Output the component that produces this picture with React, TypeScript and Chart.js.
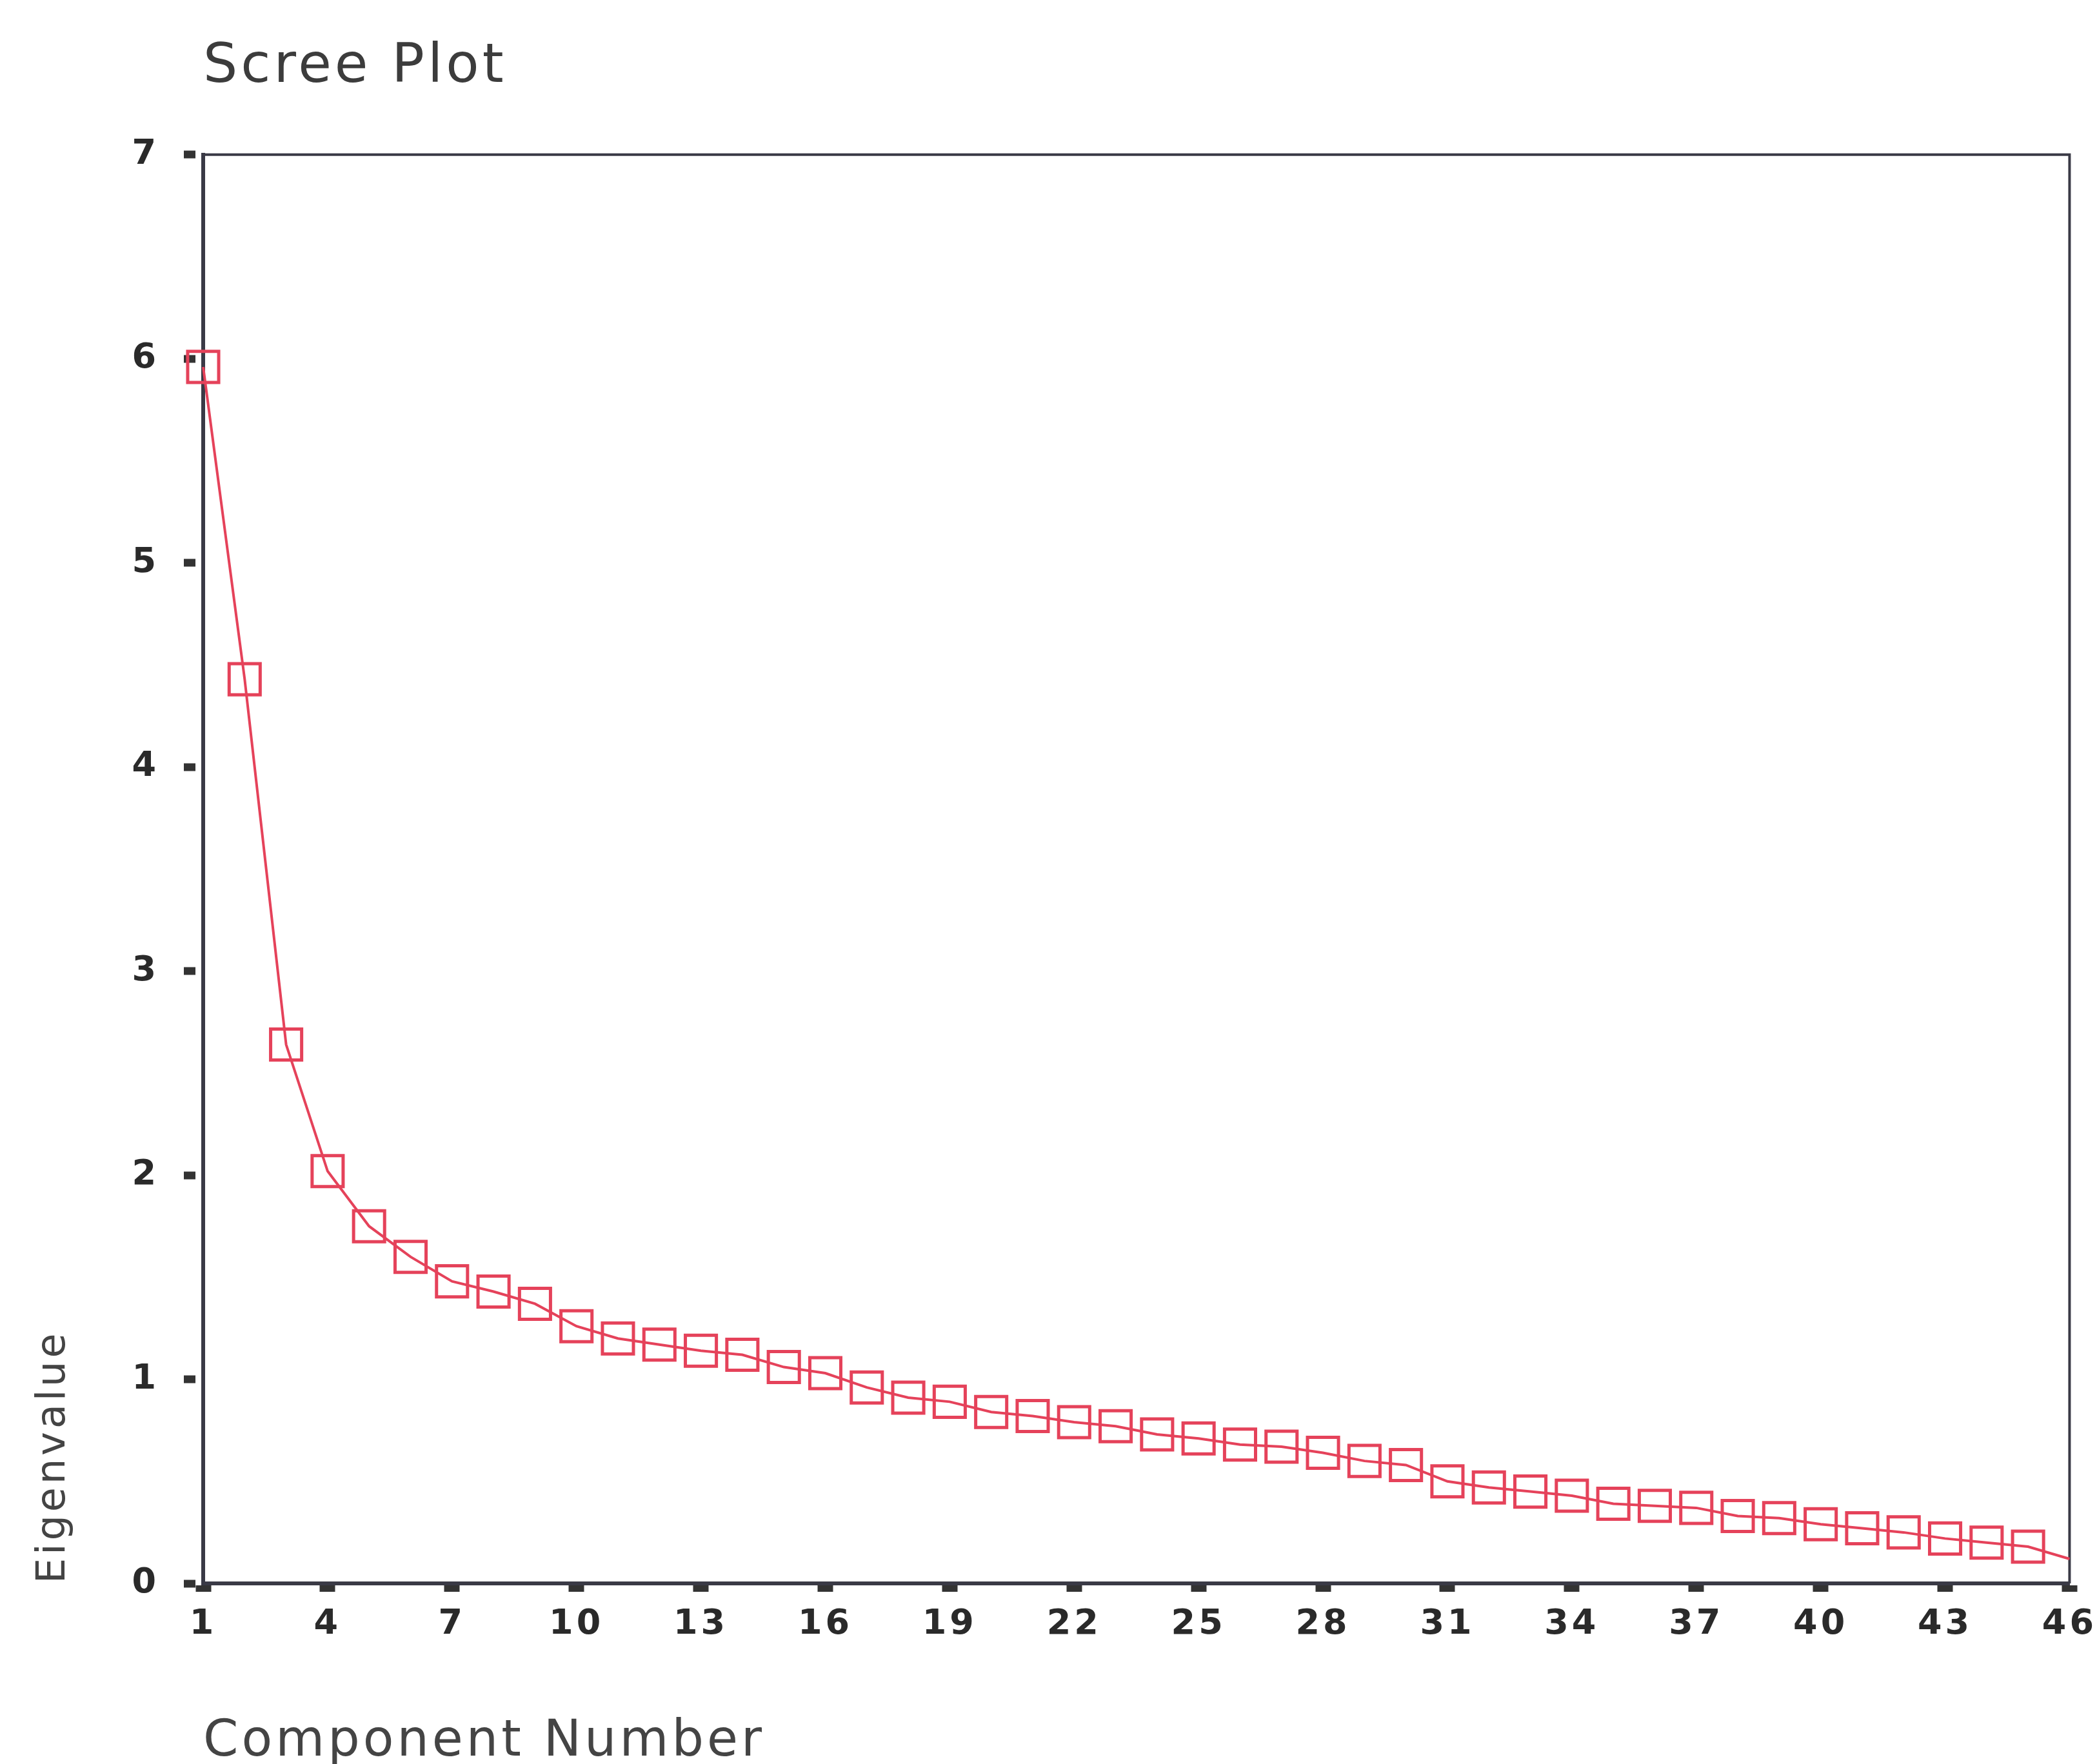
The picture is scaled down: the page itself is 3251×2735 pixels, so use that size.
import React, { useEffect, useRef } from "react";
import { Chart, registerables } from "chart.js";

Chart.register(...registerables);

const components: number[] = [
  1, 2, 3, 4, 5, 6, 7, 8, 9, 10, 11, 12, 13, 14, 15, 16, 17, 18, 19, 20, 21, 22, 23,
  24, 25, 26, 27, 28, 29, 30, 31, 32, 33, 34, 35, 36, 37, 38, 39, 40, 41, 42, 43, 44,
  45, 46,
];

const eigenvalues: number[] = [
  5.96, 4.43, 2.64, 2.02, 1.75, 1.6, 1.48, 1.43, 1.37, 1.26, 1.2, 1.17, 1.14, 1.12,
  1.06, 1.03, 0.96, 0.91, 0.89, 0.84, 0.82, 0.79, 0.77, 0.73, 0.71, 0.68, 0.67, 0.64,
  0.6, 0.58, 0.5, 0.47, 0.45, 0.43, 0.39, 0.38, 0.37, 0.33, 0.32, 0.29, 0.27, 0.25,
  0.22, 0.2, 0.18, 0.12,
];

const xTickValues: number[] = [1, 4, 7, 10, 13, 16, 19, 22, 25, 28, 31, 34, 37, 40, 43, 46];
const yTickValues: number[] = [0, 1, 2, 3, 4, 5, 6, 7];

const chartTitle = "Scree Plot";
const xTitle = "Component Number";
const yTitle = "Eigenvalue";

const FONT = "'DejaVu Sans', sans-serif";
const AXIS = "#3a3a46";
const RED = "#e5425a";

const spacingPlugin = {
  id: "spacing",
  beforeLayout(chart: any) {
    chart.ctx.letterSpacing = "5px";
  },
  beforeDraw(chart: any) {
    chart.ctx.letterSpacing = "5px";
  },
};

const framePlugin = {
  id: "frame",
  beforeDatasetsDraw(chart: any) {
    const { ctx, chartArea } = chart;
    const { left, top, right, bottom } = chartArea;
    ctx.save();
    ctx.strokeStyle = AXIS;
    ctx.lineWidth = 4;
    ctx.beginPath();
    ctx.moveTo(left, top);
    ctx.lineTo(right, top);
    ctx.lineTo(right, bottom);
    ctx.stroke();
    ctx.restore();
  },
};

export default function App() {
  const ref = useRef<HTMLCanvasElement | null>(null);

  useEffect(() => {
    if (!ref.current) return;
    const last = components.length - 1;
    const chart = new Chart(ref.current, {
      type: "line",
      data: {
        datasets: [
          {
            data: components.map((c, i) => ({ x: c, y: eigenvalues[i] })),
            borderColor: RED,
            borderWidth: 4,
            pointStyle: "rect",
            pointRadius: (ctx: any) => (ctx.dataIndex === last ? 0 : 34),
            pointBorderWidth: 5,
            pointBorderColor: RED,
            pointBackgroundColor: "rgba(255,255,255,0)",
            tension: 0,
            clip: false as any,
          },
        ],
      },
      options: {
        responsive: false,
        animation: false,
        devicePixelRatio: 1,
        layout: { padding: { left: 0, right: 0, top: 0, bottom: 0 } },
        plugins: {
          legend: { display: false },
          tooltip: { enabled: false },
          title: {
            display: true,
            text: chartTitle,
            align: "start",
            fullSize: false,
            color: "#3c3c3c",
            font: { family: FONT, size: 84, weight: "normal", lineHeight: 1.2 },
            padding: { top: 55, bottom: 84 },
          },
        },
        scales: {
          x: {
            type: "linear",
            min: 1,
            max: 46,
            afterBuildTicks: (s: any) => {
              s.ticks = xTickValues.map((v) => ({ value: v }));
            },
            afterFit: (s: any) => {
              s.height = 280;
            },
            grid: {
              drawOnChartArea: false,
              drawTicks: true,
              tickLength: 32,
              tickWidth: 24,
              tickColor: "#333",
              tickBorderDash: [10, 60],
            } as any,
            border: { display: true, color: AXIS, width: 6 },
            ticks: {
              autoSkip: false,
              maxRotation: 0,
              padding: 0,
              color: "#2a2a2a",
              font: { family: FONT, size: 54, weight: "bold" },
            },
            title: {
              display: true,
              text: xTitle,
              align: "start",
              color: "#444",
              font: { family: FONT, size: 78, weight: "normal", lineHeight: 0.8 },
              padding: { top: 0, bottom: 2 },
            },
          },
          y: {
            type: "linear",
            min: 0,
            max: 7,
            afterBuildTicks: (s: any) => {
              s.ticks = yTickValues.map((v) => ({ value: v }));
            },
            afterFit: (s: any) => {
              s.width = 315;
            },
            grid: {
              drawOnChartArea: false,
              drawTicks: true,
              tickLength: 30,
              tickWidth: 12,
              tickColor: "#333",
              tickBorderDash: [18, 12],
            } as any,
            border: { display: true, color: AXIS, width: 6 },
            ticks: {
              padding: 38,
              color: "#2a2a2a",
              font: { family: FONT, size: 54, weight: "bold" },
            },
            title: {
              display: true,
              text: yTitle,
              align: "start",
              color: "#444",
              font: { family: FONT, size: 62, weight: "normal", lineHeight: 1.2 },
              padding: { top: 47, bottom: 0 },
            },
          },
        },
      } as any,
      plugins: [spacingPlugin, framePlugin],
    });
    return () => chart.destroy();
  }, []);

  return (
    <div style={{ position: "fixed", left: 0, top: 0, width: 3251, height: 2735, background: "#fff" }}>
      <canvas ref={ref} width={3251} height={2735} style={{ width: 3251, height: 2735, display: "block" }} />
    </div>
  );
}
